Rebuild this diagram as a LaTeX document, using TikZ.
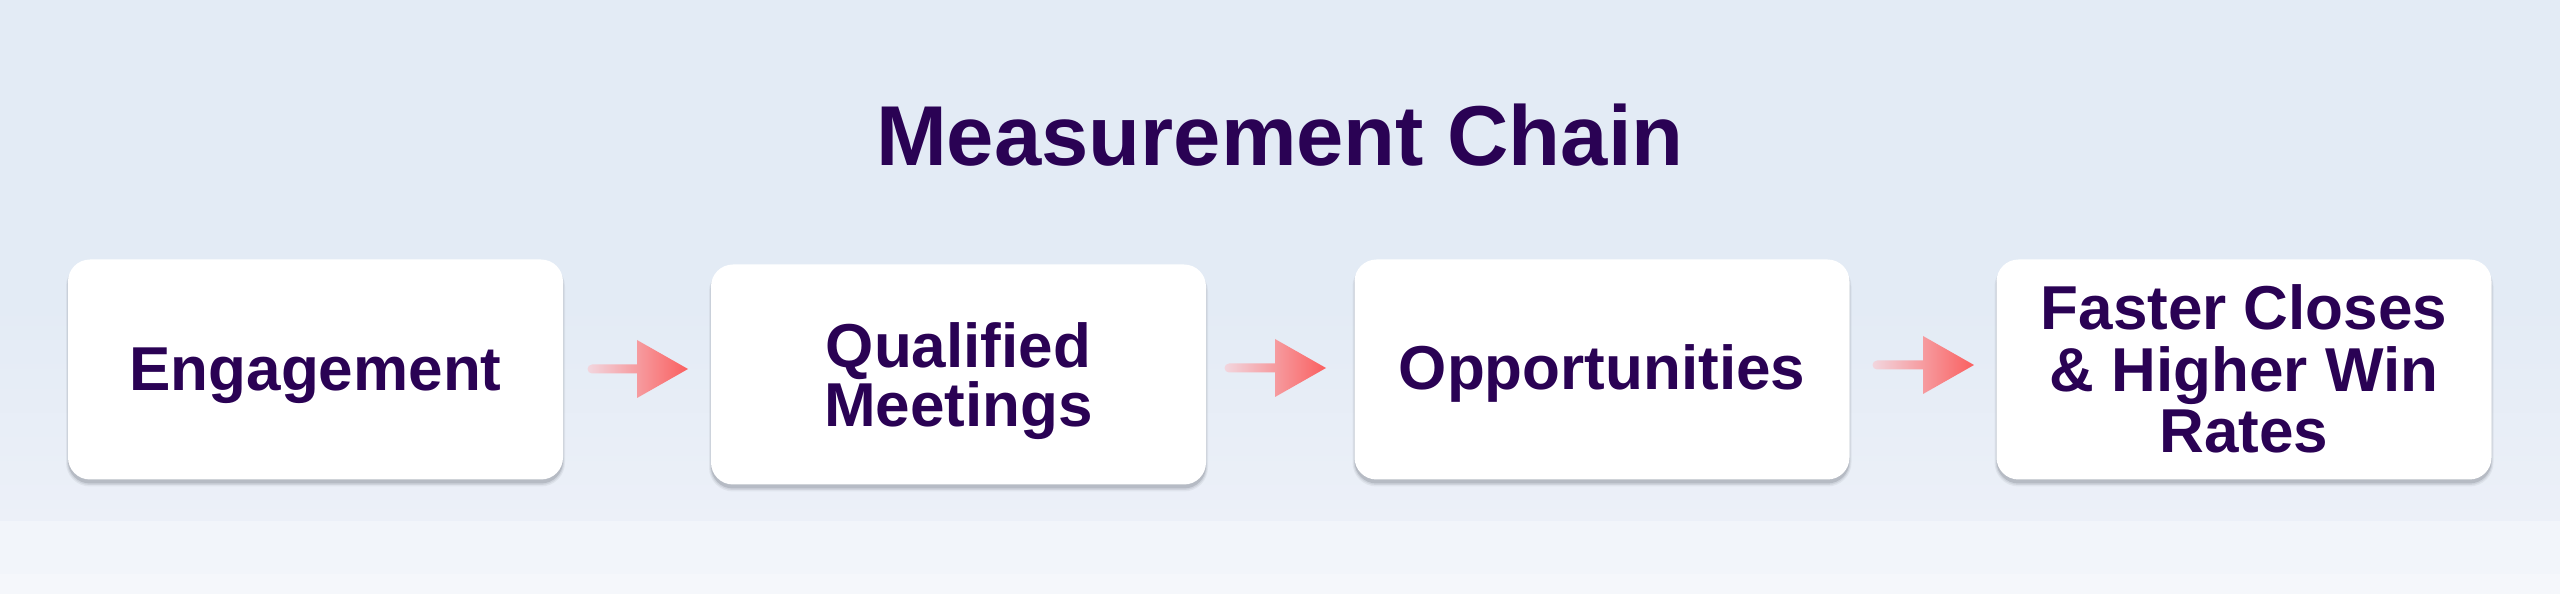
\documentclass[tikz,border=0pt]{standalone}
\usepackage{fontspec}
\setmainfont{Liberation Sans}
\definecolor{bgtop}{RGB}{227,235,245}
\definecolor{bgmid}{RGB}{236,240,248}
\definecolor{bgband}{RGB}{242,245,250}
\definecolor{bgbot}{RGB}{245,247,251}
\definecolor{ink}{RGB}{42,2,84}
\definecolor{shadowc}{RGB}{120,126,136}
\definecolor{arrL}{RGB}{242,214,222}
\definecolor{arrR}{RGB}{250,95,95}
\tikzset{
  card/.style={rectangle, rounded corners=22pt, fill=white, minimum width=495pt, minimum height=220pt, inner sep=0pt, draw=none},
  lbl/.style={anchor=base, inner sep=0pt, text=ink, font=\fontsize{62}{62}\selectfont\bfseries},
  ttl/.style={anchor=base, inner sep=0pt, text=ink, font=\fontsize{85}{85}\selectfont\bfseries}
}
\newcommand\cardshadow[2]{%
  \fill[shadowc, opacity=0.10, rounded corners=24pt] (#1-249.5,#2-110-7) rectangle (#1+249.5,#2+110-3);
  \fill[shadowc, opacity=0.15, rounded corners=23pt] (#1-248.5,#2-110-5.5) rectangle (#1+248.5,#2+110-3);
  \fill[shadowc, opacity=0.28, rounded corners=22pt] (#1-247.5,#2-110-4) rectangle (#1+247.5,#2+110-3);
}
\newcommand\garrow[3]{%
  \shade[left color=arrL, right color=arrR]
    (#1,#3+4.5) -- (#2-51,#3+4.5) -- (#2-51,#3+29) -- (#2,#3) -- (#2-51,#3-29)
    -- (#2-51,#3-4.5) -- (#1,#3-4.5) arc[start angle=270, end angle=90, radius=4.5] -- cycle;
}
\begin{document}
\begin{tikzpicture}[x=1pt,y=1pt]
\useasboundingbox (0,0) rectangle (2560,594);
% background
\fill[bgtop] (0,290) rectangle (2560,594);
\shade[top color=bgtop, bottom color=bgmid] (0,73) rectangle (2560,290.5);
\fill[bgband] (0,20) rectangle (2560,73);
\fill[bgbot] (0,0) rectangle (2560,20);
% title
\node[ttl] (title) at (1280,428.5) {Measurement Chain};
% shadows
\cardshadow{315.5}{224.5}
\cardshadow{958.5}{219.5}
\cardshadow{1602}{224.5}
\cardshadow{2244}{224.5}
% cards
\node[card] (b1) at (315.5,224.5) {};
\node[card] (b2) at (958.5,219.5) {};
\node[card] (b3) at (1602,224.5) {};
\node[card] (b4) at (2244,224.5) {};
% labels
\node[lbl] (t1) at (b1.center |- 0,203) {Engagement};
\node[lbl] (t2a) at (b2.center |- 0,226) {Qualified};
\node[lbl] (t2b) at (b2.center |- 0,167) {Meetings};
\node[lbl] (t3) at (b3.center |- 0,204) {Opportunities};
\node[lbl] (t4a) at (b4.center |- 0,264) {Faster Closes};
\node[lbl] (t4b) at (b4.center |- 0,202) {\& Higher Win};
\node[lbl] (t4c) at (b4.center |- 0,141) {Rates};
% arrows
\garrow{592}{688}{225}
\garrow{1229}{1326}{226}
\garrow{1877}{1974}{229}
\end{tikzpicture}
\end{document}
